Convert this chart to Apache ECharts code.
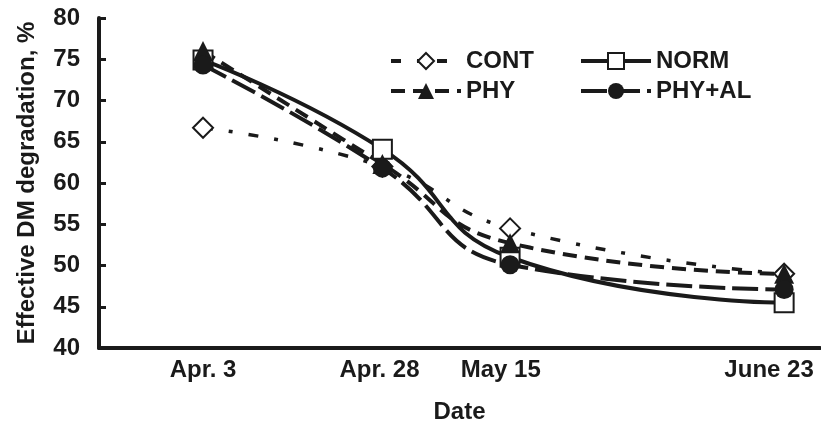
<!DOCTYPE html>
<html>
<head>
<meta charset="utf-8">
<script src="https://cdn.jsdelivr.net/npm/echarts@6/dist/echarts.min.js"></script>
<style>
html,body{margin:0;padding:0;background:#fff;}
#degradeChart{width:821px;height:427px;}
</style>
</head>
<body>
<div id="degradeChart"></div>
<script>
// sampling dates, position in days from Apr. 3
var dates = ['Apr. 3', 'Apr. 28', 'May 15', 'June 23'];
var days = [0, 25, 42.8, 81];
// where the date labels sit on the day axis
var labelDays = [0, 24.6, 41.5, 78.9];
// effective DM degradation, %
var cont = [66.7, 62.0, 54.5, 49.0];
var norm = [74.9, 64.1, 51.0, 45.5];
var phy = [76.0, 62.3, 52.7, 49.0];
var phyal = [74.3, 61.8, 50.1, 47.1];

function pairs(vals){
	var out = [];
	for (var i = 0; i < days.length; i++) {
		out.push([days[i], vals[i]]);
	}
	return out;
}

var font = 'Arial, "Liberation Sans", sans-serif';
var ink = '#1a1a1a';
var degradeChart = echarts.init(document.getElementById('degradeChart'));
var degradeChart_option = {
	animation: false,
	grid: { left: 99, right: 1, top: 18, bottom: 79, outerBoundsMode: 'none' },
	legend: [
		{
			orient: 'vertical', left: 384, top: 44,
			itemWidth: 70, itemHeight: 20, itemGap: 6,
			lineStyle: { width: 4 },
			textStyle: { fontFamily: font, fontSize: 24, fontWeight: 'bold', color: ink },
			data: ['CONT', 'PHY']
		},
		{
			orient: 'vertical', left: 574, top: 44,
			itemWidth: 70, itemHeight: 20, itemGap: 6,
			lineStyle: { width: 4 },
			textStyle: { fontFamily: font, fontSize: 24, fontWeight: 'bold', color: ink },
			data: ['NORM', 'PHY+AL']
		}
	],
	xAxis: {
		type: 'value',
		min: -14.5,
		max: 86,
		name: 'Date',
		nameLocation: 'middle',
		nameGap: 52,
		nameTextStyle: { fontFamily: font, fontSize: 24, fontWeight: 'bold', color: ink },
		axisLine: { onZero: false, lineStyle: { color: ink, width: 4 } },
		axisTick: { show: false },
		splitLine: { show: false },
		axisLabel: {
			customValues: labelDays,
			margin: 10,
			fontFamily: font, fontSize: 24, fontWeight: 'bold', color: ink,
			formatter: function(v){
				var i = labelDays.indexOf(v);
				return i >= 0 ? dates[i] : '';
			}
		}
	},
	yAxis: {
		type: 'value',
		min: 40,
		max: 80,
		interval: 5,
		name: 'Effective DM degradation, %',
		nameLocation: 'middle',
		nameGap: 60,
		nameRotate: 90,
		nameTextStyle: { fontFamily: font, fontSize: 24, fontWeight: 'bold', color: ink },
		axisLine: { show: true, onZero: false, lineStyle: { color: ink, width: 4 } },
		axisTick: { show: true, inside: true, length: 7, lineStyle: { color: ink, width: 3 } },
		splitLine: { show: false },
		axisLabel: {
			margin: 19,
			fontFamily: font, fontSize: 24, fontWeight: 'bold', color: ink
		}
	},
	series: [
		{
			name: 'CONT',
			type: 'line',
			smooth: true,
			symbol: 'diamond',
			symbolSize: 20,
			itemStyle: { color: '#fff', borderColor: ink, borderWidth: 2 },
			lineStyle: { color: ink, width: 3.5, type: [10, 16, 4, 16] },
			data: pairs(cont)
		},
		{
			name: 'NORM',
			type: 'line',
			smooth: true,
			symbol: 'rect',
			symbolSize: 19,
			itemStyle: { color: '#fff', borderColor: ink, borderWidth: 2 },
			lineStyle: { color: ink, width: 4 },
			data: pairs(norm)
		},
		{
			name: 'PHY',
			type: 'line',
			smooth: true,
			symbol: 'triangle',
			symbolSize: 20,
			itemStyle: { color: ink },
			lineStyle: { color: ink, width: 4, type: [14, 8] },
			data: pairs(phy)
		},
		{
			name: 'PHY+AL',
			type: 'line',
			smooth: true,
			symbol: 'circle',
			symbolSize: 19,
			itemStyle: { color: ink },
			lineStyle: { color: ink, width: 4, type: [26, 7] },
			data: pairs(phyal)
		}
	]
};
degradeChart.setOption(degradeChart_option);
</script>
</body>
</html>
